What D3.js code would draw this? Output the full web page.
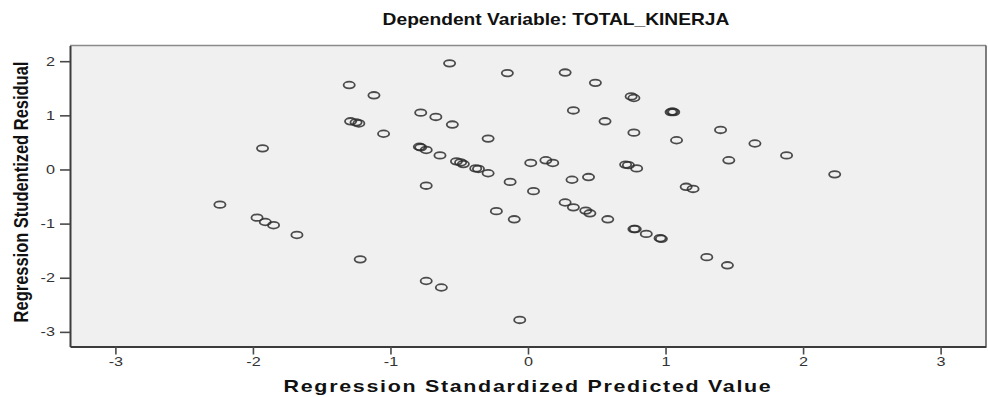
<!DOCTYPE html>
<html>
<head>
<meta charset="utf-8">
<script src="https://cdn.jsdelivr.net/npm/d3@7"></script>
<style>
  body { margin: 0; background: #fff; }
  text { font-family: "Liberation Sans", Arial, sans-serif; }
</style>
</head>
<body>
<div id="chart"></div>
<script>
// regression standardized predicted value (x) and studentized residual (y)
const predicted = [
  -1.30, -1.12, -1.29, -1.25, -1.23, -1.05, -0.78, -1.93, -0.79, -0.78,
  -0.74, -0.74, -0.57, -0.15, 0.27, 0.49, 0.75, 0.77, -0.67, -0.55,
  0.33, 0.56, 0.77, -0.29, -0.64, -0.52, -0.49, -0.47, -0.38, -0.36,
  -0.29, -0.13, 0.02, 0.13, 0.18, 0.32, 0.44, 0.71, 0.73, 0.79,
  1.04, 1.05, 1.06, 1.08, 1.40, 1.65, 1.46, 1.88, 2.23, 1.15,
  1.20, -2.24, -1.97, -1.91, -1.85, -1.68, -1.22, -0.74, 0.04, -0.23,
  -0.10, 0.27, 0.33, 0.42, 0.45, 0.58, 0.77, 0.78, 0.86, 0.96,
  0.97, 1.30, 1.45, -0.63, -0.06
];
const residual = [
  1.56, 1.37, 0.89, 0.87, 0.85, 0.66, 1.05, 0.39, 0.42, 0.41,
  0.36, -0.30, 1.96, 1.78, 1.79, 1.60, 1.35, 1.32, 0.97, 0.83,
  1.09, 0.89, 0.68, 0.57, 0.26, 0.15, 0.13, 0.10, 0.02, 0.01,
  -0.07, -0.23, 0.12, 0.17, 0.12, -0.19, -0.14, 0.09, 0.08, 0.02,
  1.06, 1.07, 1.06, 0.54, 0.73, 0.48, 0.17, 0.26, -0.09, -0.32,
  -0.36, -0.65, -0.89, -0.97, -1.03, -1.21, -1.66, -2.06, -0.40, -0.77,
  -0.92, -0.61, -0.70, -0.76, -0.81, -0.92, -1.10, -1.10, -1.19, -1.27,
  -1.28, -1.62, -1.77, -2.18, -2.78
];
const xTicks = [-3, -2, -1, 0, 1, 2, 3];
const yTicks = [-3, -2, -1, 0, 1, 2];
const title = 'Dependent Variable: TOTAL_KINERJA';
const xLabel = 'Regression Standardized Predicted Value';
const yLabel = 'Regression Studentized Residual';

const points = predicted.map((d, i) => ({ x: d, y: residual[i] }));

const W = 988;
const H = 397;
const margin = { top: 45.5, right: 2, bottom: 50.5, left: 70 };
const width = W - margin.left - margin.right;
const height = H - margin.top - margin.bottom;
const stretch = 1.35; // the source image is stretched horizontally

const x = d3.scaleLinear().domain([-3.33, 3.33]).range([0, width]);
const y = d3.scaleLinear().domain([-3.27, 2.29]).range([height, 0]);

// SPSS style labels: plain integers with an ascii hyphen
const tickFmt = d => String(d);

const svg = d3
  .select('#chart')
  .append('svg')
  .attr('width', W)
  .attr('height', H);

const g = svg
  .append('g')
  .attr('transform', 'translate(' + margin.left + ',' + margin.top + ')');

// plot background + frame
g.append('rect')
  .attr('width', width)
  .attr('height', height)
  .attr('fill', '#f0f0f0');
g.append('line')
  .attr('x1', 0).attr('x2', width)
  .attr('y1', 0).attr('y2', 0)
  .attr('stroke', '#8a8a8a')
  .attr('stroke-width', 1.5);
g.append('line')
  .attr('x1', width).attr('x2', width)
  .attr('y1', 0).attr('y2', height)
  .attr('stroke', '#555')
  .attr('stroke-width', 1.5);

// axes
const xAxis = d3.axisBottom(x).tickValues(xTicks).tickFormat(tickFmt)
  .tickSize(8).tickPadding(3).tickSizeOuter(0);
const yAxis = d3.axisLeft(y).tickValues(yTicks).tickFormat(tickFmt)
  .tickSize(10).tickPadding(5).tickSizeOuter(0);

const gx = g.append('g')
  .attr('class', 'x axis')
  .attr('transform', 'translate(0,' + height + ')')
  .call(xAxis);
const gy = g.append('g')
  .attr('class', 'y axis')
  .call(yAxis);

[gx, gy].forEach(function(ax) {
  ax.attr('font-size', 12);
  ax.select('.domain').attr('stroke', '#3c3c3c').attr('stroke-width', 2);
  ax.selectAll('.tick line').attr('stroke', '#4a4a4a').attr('stroke-width', 1.6);
  ax.selectAll('.tick text')
    .attr('fill', '#333')
    .style('font-family', '"Liberation Sans", Arial, sans-serif');
});
gx.selectAll('.tick text').attr('transform', 'scale(' + stretch + ',1)');
gy.selectAll('.tick text')
  .attr('x', -15 / stretch)
  .attr('transform', 'scale(' + stretch + ',1)');

// points
g.append('g')
  .attr('class', 'points')
  .selectAll('ellipse')
  .data(points)
  .join('ellipse')
  .attr('cx', d => x(d.x))
  .attr('cy', d => y(d.y))
  .attr('rx', 5.6)
  .attr('ry', 3.3)
  .attr('fill', 'none')
  .attr('stroke', '#2e2e2e')
  .attr('stroke-opacity', 0.85)
  .attr('stroke-width', 1.8);

// title and axis labels (stretched wide like the source image)
svg.append('text')
  .attr('transform', 'translate(556,25) scale(1.2,1)')
  .attr('text-anchor', 'middle')
  .style('font-size', '16px')
  .style('font-weight', 'bold')
  .attr('fill', '#111')
  .text(title);

svg.append('text')
  .attr('transform', 'translate(528,392) scale(1.3,1)')
  .attr('text-anchor', 'middle')
  .style('font-size', '16.5px')
  .style('font-weight', 'bold')
  .style('letter-spacing', '1.3px')
  .attr('fill', '#111')
  .text(xLabel);

svg.append('text')
  .attr('transform', 'translate(28,192) rotate(-90) scale(1.03,1.3)')
  .attr('text-anchor', 'middle')
  .style('font-size', '16px')
  .style('font-weight', 'bold')
  .attr('fill', '#111')
  .text(yLabel);
</script>
</body>
</html>
